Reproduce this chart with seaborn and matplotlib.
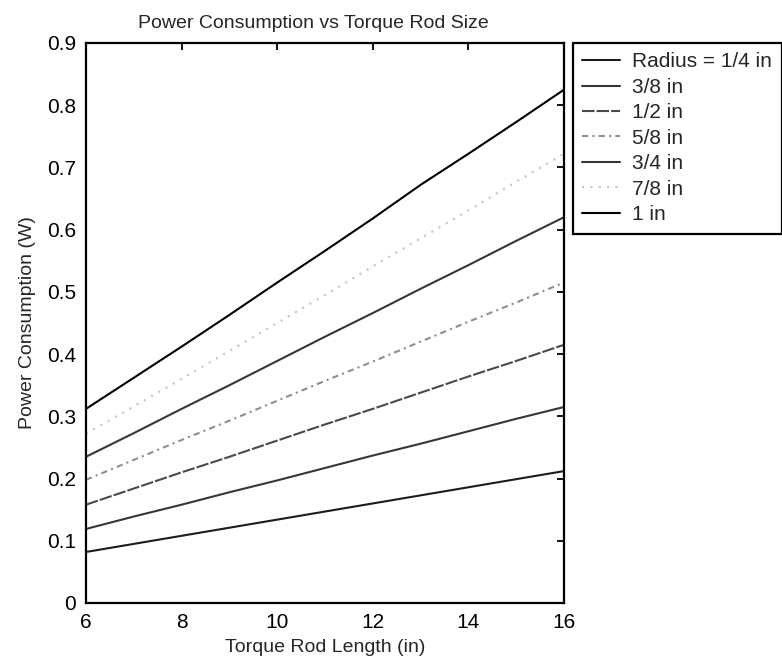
import numpy as np
import pandas as pd
import matplotlib
matplotlib.use("Agg")
import matplotlib.pyplot as plt
import seaborn as sns

# ---- data ----
length_in = [6, 7, 8, 9, 10, 11, 12, 13, 14, 15, 16]
radius_labels = ["Radius = 1/4 in", "3/8 in", "1/2 in", "5/8 in", "3/4 in", "7/8 in", "1 in"]
p_r1_4 = [0.082, 0.095, 0.108, 0.121, 0.134, 0.147, 0.160, 0.173, 0.186, 0.199, 0.212]
p_r3_8 = [0.119, 0.139, 0.158, 0.178, 0.197, 0.217, 0.237, 0.256, 0.276, 0.296, 0.315]
p_r1_2 = [0.158, 0.184, 0.210, 0.235, 0.261, 0.287, 0.312, 0.338, 0.364, 0.389, 0.415]
p_r5_8 = [0.198, 0.230, 0.262, 0.293, 0.325, 0.357, 0.388, 0.420, 0.452, 0.483, 0.515]
p_r3_4 = [0.235, 0.273, 0.312, 0.350, 0.389, 0.428, 0.466, 0.505, 0.543, 0.582, 0.620]
p_r7_8 = [0.272, 0.316, 0.360, 0.405, 0.450, 0.495, 0.541, 0.586, 0.631, 0.677, 0.722]
p_r1 = [0.312, 0.362, 0.412, 0.463, 0.515, 0.566, 0.618, 0.672, 0.722, 0.773, 0.825]
series = [p_r1_4, p_r3_8, p_r1_2, p_r5_8, p_r3_4, p_r7_8, p_r1]

x_ticks = [6, 8, 10, 12, 14, 16]
y_ticks = [0, 0.1, 0.2, 0.3, 0.4, 0.5, 0.6, 0.7, 0.8, 0.9]

rows = []
for lab, vals in zip(radius_labels, series):
    for xv, yv in zip(length_in, vals):
        rows.append({"Length": xv, "Power": yv, "Radius": lab})
df = pd.DataFrame(rows)

sns.set_style("white")
plt.rcParams["font.family"] = ["Liberation Sans", "DejaVu Sans"]

colors = ["#1c1c1c", "#363636", "#4a4a4a", "#8e8e8e", "#363636", "#c4c4c4", "#000000"]
dash_styles = ["", "", (6, 1), (3, 2, 1, 2), "", (1, 3), ""]

fig = plt.figure(figsize=(7.82, 6.62), dpi=100)
ax = fig.add_axes([86 / 782, 1 - 603 / 662, (564 - 86) / 782, (603 - 43) / 662])

sns.lineplot(data=df, x="Length", y="Power", hue="Radius", style="Radius",
             hue_order=radius_labels, style_order=radius_labels,
             palette=dict(zip(radius_labels, colors)),
             dashes=dict(zip(radius_labels, dash_styles)),
             linewidth=1.5, ax=ax, legend=True)

ax.set_xlim(6, 16)
ax.set_ylim(0, 0.9)
ax.set_xticks(x_ticks)
ax.set_xticklabels([str(v) for v in x_ticks])
ax.set_yticks(y_ticks)
ax.set_yticklabels(["0"] + [f"{v:.1f}" for v in y_ticks[1:]])
ax.tick_params(direction="in", length=5, width=1.3, top=True, right=True,
               labelsize=15, pad=7, colors="black")
for s in ax.spines.values():
    s.set_visible(True)
    s.set_color("black")
    s.set_linewidth(1.6)

ax.set_xlabel("Torque Rod Length (in)", fontsize=14, labelpad=5)
ax.set_ylabel("Power Consumption (W)", fontsize=14, labelpad=8)
ax.set_title("Power Consumption vs Torque Rod Size", fontsize=14, x=0.475, pad=11)

handles, labels = ax.get_legend_handles_labels()
leg = ax.legend(handles, labels, loc="upper left", bbox_to_anchor=(1.019, 1.0),
                borderaxespad=0, fontsize=15, frameon=True, fancybox=False,
                handlelength=1.8, handletextpad=0.6, labelspacing=0.31,
                borderpad=0.45)
leg.get_frame().set_edgecolor("black")
leg.get_frame().set_linewidth(1.6)
leg.get_frame().set_alpha(1)

fig.savefig("out.png", dpi=100)
